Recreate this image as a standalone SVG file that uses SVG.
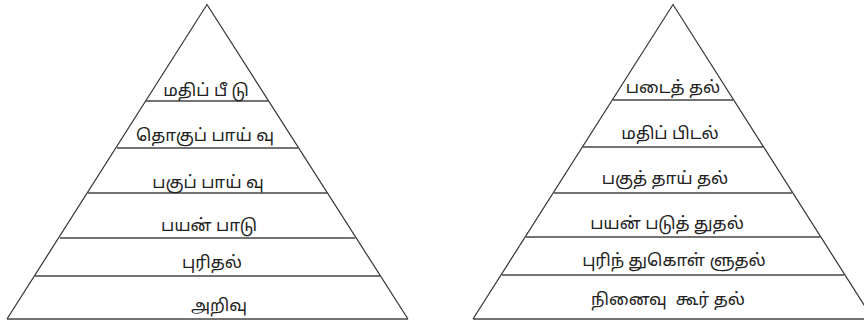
<svg xmlns="http://www.w3.org/2000/svg" width="864" height="324" viewBox="0 0 864 324">
<style>
.edge{fill:none;stroke:#333;stroke-width:1.2;stroke-linejoin:miter}
.tier{stroke:#444;stroke-width:1.6}
.lbl{font-family:"Noto Sans Tamil","Latha","Noto Sans",sans-serif;font-size:17px;fill:#222;text-anchor:middle;white-space:pre}
</style>
<rect width="864" height="324" fill="#fff"/>
<g id="connectors">
<polyline class="edge" points="7,319 207,4.5 408,319"/>
<line class="tier" x1="7" y1="319" x2="408" y2="319"/>
<line class="tier" x1="146" y1="101" x2="268" y2="101"/>
<line class="tier" x1="117" y1="148" x2="298" y2="148"/>
<line class="tier" x1="88" y1="193" x2="327" y2="193"/>
<line class="tier" x1="60" y1="238" x2="355" y2="238"/>
<line class="tier" x1="35" y1="276" x2="380" y2="276"/>
<polyline class="edge" points="473,319 673,4.5 873,319"/>
<line class="tier" x1="473" y1="319" x2="864" y2="319"/>
<line class="tier" x1="613" y1="100" x2="733" y2="100"/>
<line class="tier" x1="583" y1="147" x2="763" y2="147"/>
<line class="tier" x1="554" y1="193" x2="792" y2="193"/>
<line class="tier" x1="526" y1="237" x2="820" y2="237"/>
<line class="tier" x1="502" y1="275" x2="844" y2="275"/>
</g>
<g id="left-pyramid">
<g id="l6"><text class="lbl" x="206" y="96">மதிப் பீ டு</text></g>
<g id="l5"><text class="lbl" x="205" y="141">தொகுப் பாய் வு</text></g>
<g id="l4"><text class="lbl" x="208" y="188">பகுப் பாய் வு</text></g>
<g id="l3"><text class="lbl" x="209" y="231">பயன் பாடு</text></g>
<g id="l2"><text class="lbl" x="212" y="268">புரிதல்</text></g>
<g id="l1"><text class="lbl" x="219" y="311">அறிவு</text></g>
</g>
<g id="right-pyramid">
<g id="r6"><text class="lbl" x="673" y="93">படைத் தல்</text></g>
<g id="r5"><text class="lbl" x="670" y="139">மதிப் பிடல்</text></g>
<g id="r4"><text class="lbl" x="665" y="184">பகுத் தாய் தல்</text></g>
<g id="r3"><text class="lbl" x="667" y="229">பயன் படுத் துதல்</text></g>
<g id="r2"><text class="lbl" x="674" y="266">புரிந் துகொள் ளுதல்</text></g>
<g id="r1"><text class="lbl" x="668" y="305" xml:space="preserve">நினைவு  கூர் தல்</text></g>
</g>
</svg>
